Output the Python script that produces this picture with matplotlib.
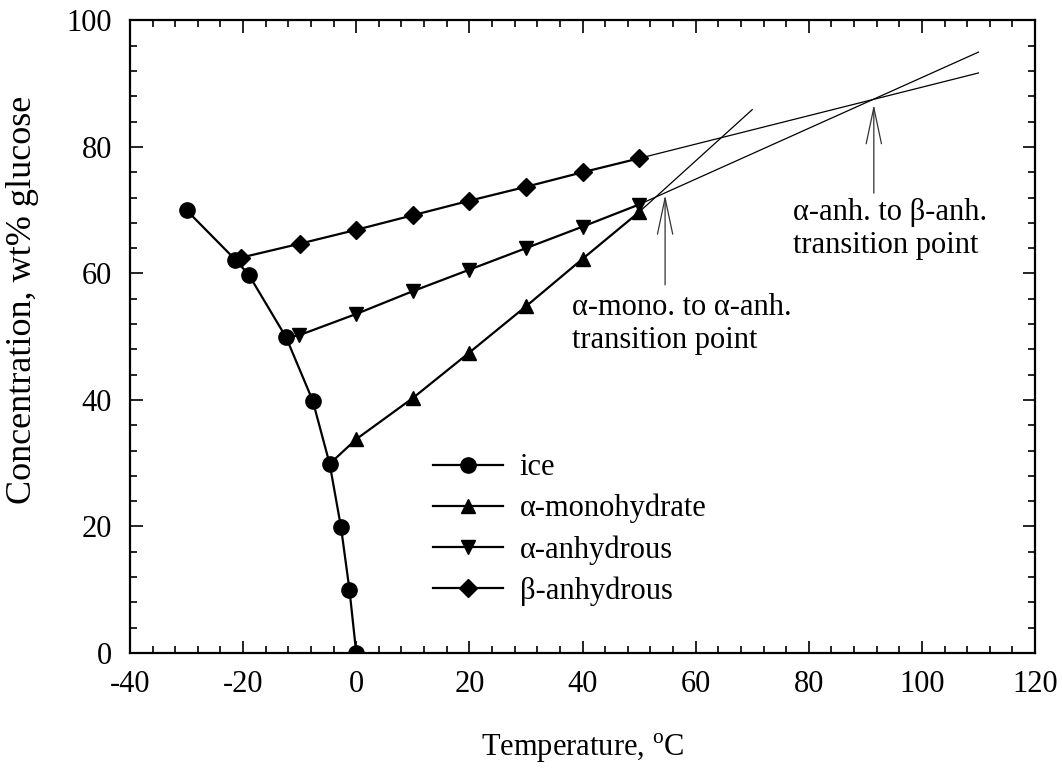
import numpy as np
import matplotlib
matplotlib.use("Agg")
import matplotlib.pyplot as plt
from matplotlib.ticker import MultipleLocator

plt.rcParams['font.family'] = ['Liberation Serif', 'DejaVu Serif']
plt.rcParams['mathtext.fontset'] = 'custom'
plt.rcParams['mathtext.rm'] = 'Liberation Serif'
plt.rcParams['axes.unicode_minus'] = False
plt.rcParams['font.size'] = 22

# ice line
ice_T = [-30, -21.4, -19, -12.4, -7.7, -4.7, -2.7, -1.2, 0]
ice_c = [70, 62.2, 59.8, 49.9, 39.9, 29.9, 19.9, 10.0, 0]

# alpha-monohydrate
mono_T = [0, 10, 20, 30, 40, 50]
mono_c = [33.8, 40.3, 47.5, 54.8, 62.3, 69.7]
mono_ext_T = [50, 70]
mono_ext_c = [69.7, 85.9]

# alpha-anhydrous
anh_T = [-10.2, 0, 10, 20, 30, 40, 50]
anh_c = [50.2, 53.6, 57.2, 60.6, 64.0, 67.4, 70.9]
anh_ext_T = [50, 110]
anh_ext_c = [70.9, 95.0]

# beta-anhydrous
beta_T = [-20.4, -10, 0, 10, 20, 30, 40, 50]
beta_c = [62.5, 64.7, 66.9, 69.2, 71.5, 73.7, 76.0, 78.2]
beta_ext_T = [50, 110]
beta_ext_c = [78.2, 91.7]

# transition points (T, c)
trans1 = (54.6, 73.0)
trans2 = (91.5, 87.3)

fig = plt.figure(figsize=(10.62, 7.7), dpi=100)
ax = fig.add_axes([0.1224, 0.152, 0.8522, 0.8214])

lw = 1.6
ax.plot(mono_ext_T, mono_ext_c, color='k', lw=0.9)
ax.plot(anh_ext_T, anh_ext_c, color='k', lw=0.9)
ax.plot(beta_ext_T, beta_ext_c, color='k', lw=0.9)

# connectors from ice curve to first point of each branch
ax.plot([ice_T[5], mono_T[0]], [ice_c[5], mono_c[0]], color='k', lw=lw)
ax.plot([ice_T[3], anh_T[0]], [ice_c[3], anh_c[0]], color='k', lw=lw)

ax.plot(ice_T, ice_c, 'k-', marker='o', ms=11, lw=lw, label='ice', zorder=3)
ax.plot(mono_T, mono_c, 'k-', marker='^', ms=10, lw=lw, label='α-monohydrate')
ax.plot(anh_T, anh_c, 'k-', marker='v', ms=10, lw=lw, label='α-anhydrous')
ax.plot(beta_T, beta_c, 'k-', marker='D', ms=9, lw=lw, label='β-anhydrous')

arrow = dict(arrowstyle='->,head_length=2.6,head_width=0.55', color='#333333',
             lw=0.9, mutation_scale=10, shrinkA=0, shrinkB=0)
ax.annotate('', xy=(trans1[0], trans1[1] - 0.6), xytext=(trans1[0], 58.2), arrowprops=arrow)
ax.annotate('', xy=(trans2[0], trans2[1] - 0.6), xytext=(trans2[0], 72.7), arrowprops=arrow)

ax.text(38.2, 52.0, 'α-mono. to α-anh.\ntransition point', ha='left', va='center',
        linespacing=1.2)
ax.text(77.3, 67.0, 'α-anh. to β-anh.\ntransition point', ha='left', va='center',
        linespacing=1.2)

ax.set_xlim(-40, 120)
ax.set_ylim(0, 100)
ax.xaxis.set_major_locator(MultipleLocator(20))
ax.xaxis.set_minor_locator(MultipleLocator(4))
ax.yaxis.set_major_locator(MultipleLocator(20))
ax.yaxis.set_minor_locator(MultipleLocator(4))
ax.tick_params(which='both', direction='in', top=True, right=True, width=1.2)
ax.tick_params(which='major', length=9)
ax.tick_params(which='minor', length=5)
ax.tick_params(axis='x', which='major', pad=12)
ax.tick_params(axis='y', which='major', pad=13)
for s in ax.spines.values():
    s.set_linewidth(1.6)

ax.set_xlabel(r'Temperature, $^{\mathrm{o}}$C', labelpad=24)
ax.set_ylabel('Concentration, wt% glucose', fontsize=26)
ax.yaxis.set_label_coords(-0.101, 0.558)

ax.legend(loc='upper left', bbox_to_anchor=(0.321, 0.335), frameon=False,
          handlelength=2.3, handletextpad=0.55, labelspacing=0.38, borderaxespad=0)

fig.savefig('out.png', dpi=100)
